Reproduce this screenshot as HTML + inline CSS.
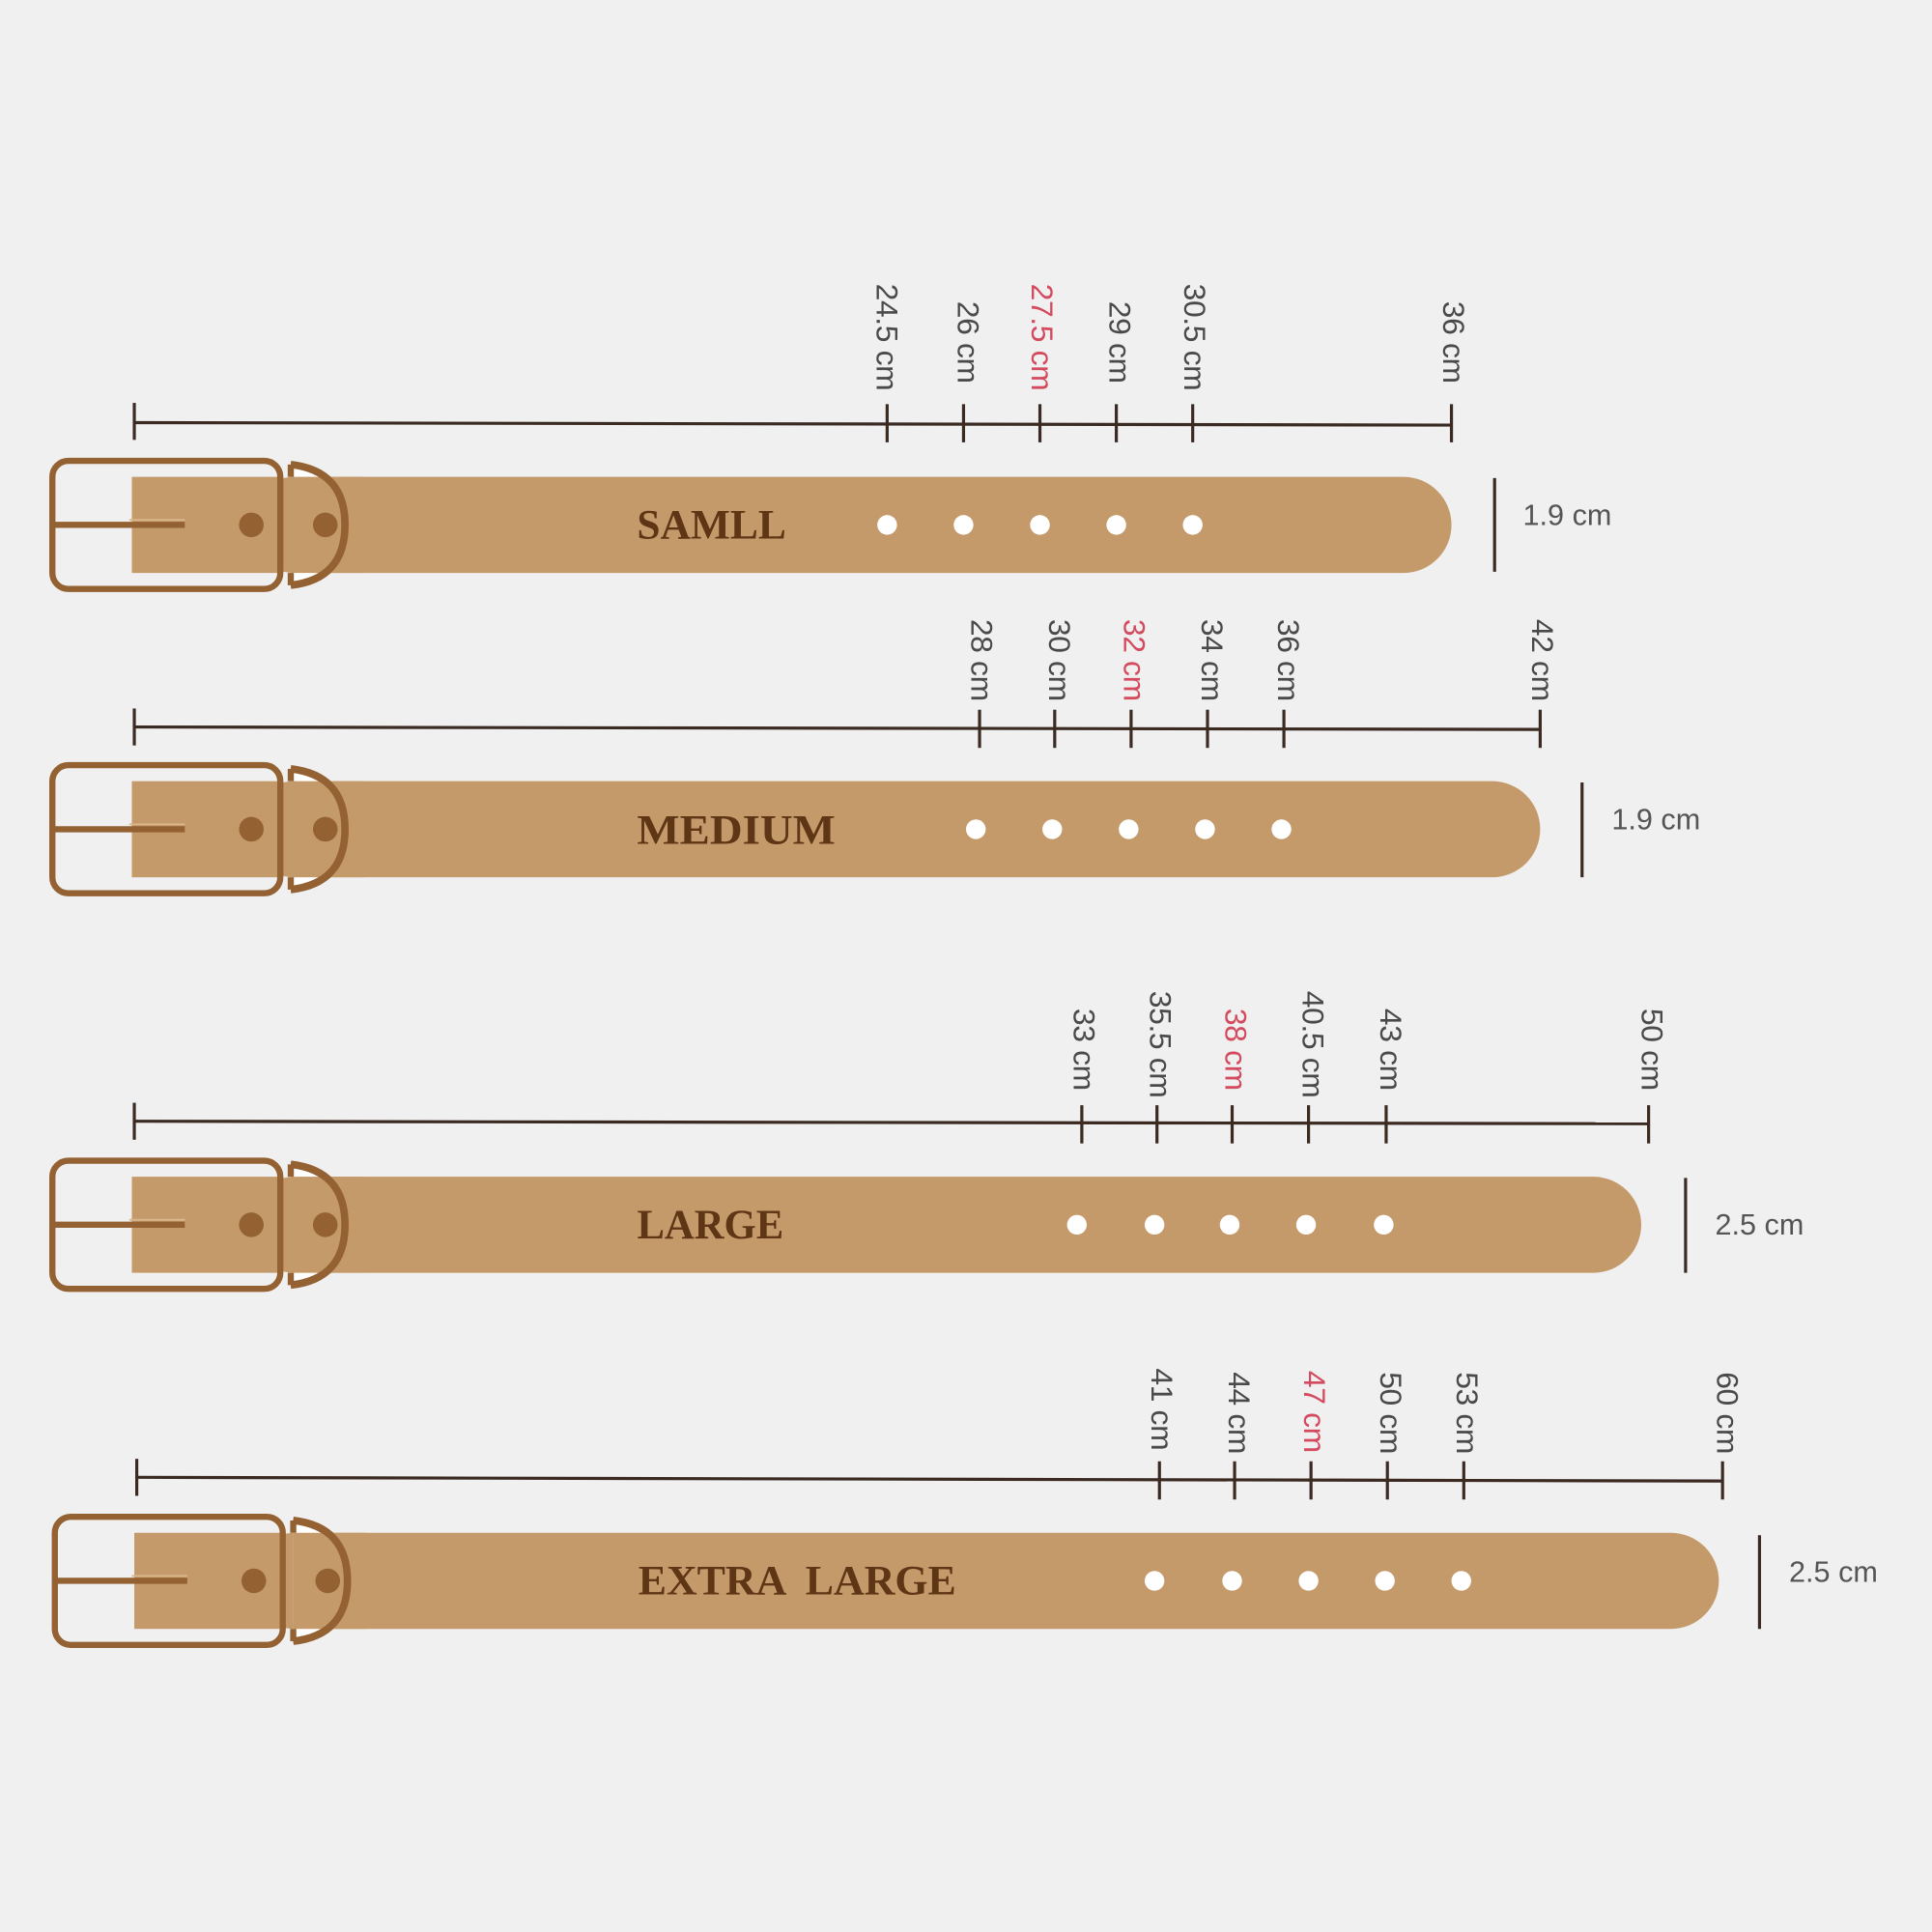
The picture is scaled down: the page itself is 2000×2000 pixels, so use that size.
<!DOCTYPE html>
<html><head><meta charset="utf-8"><style>
html,body{margin:0;padding:0;background:#f0f0f0;}
svg{display:block;}
.lb{font-family:"Liberation Sans",sans-serif;font-size:25px;fill:#4a4a4a;letter-spacing:-0.3px;}
.red{fill:#d44a5e;}
.nm{font-family:"Liberation Serif",serif;font-weight:bold;font-size:34px;fill:#5e3515;}
.w{font-family:"Liberation Sans",sans-serif;font-size:24px;fill:#555;}
</style></head><body>
<svg width="2000" height="2000" viewBox="0 0 1568 1568" xmlns="http://www.w3.org/2000/svg">
<rect width="1568" height="1568" fill="#f0f0f0"/>
<defs>
<g id="buckle">
  <rect x="67" y="13" width="120" height="78" fill="#c49a6a"/>
  <rect x="2.5" y="0" width="185" height="104" rx="13" fill="none" stroke="#946133" stroke-width="5"/>
  <line x1="4" y1="52" x2="110" y2="52" stroke="#946133" stroke-width="5"/>
  <line x1="65" y1="48" x2="110" y2="48" stroke="#d9b58a" stroke-width="1.5"/>
  <circle cx="164" cy="52" r="10" fill="#946133"/>
  <path d="M196 3 Q240 8 240 52 Q240 96 196 101" fill="#fff" stroke="#946133" stroke-width="6"/>
  <rect x="196" y="13" width="60" height="78" fill="#c49a6a"/>
  <path d="M196 3 Q240 8 240 52 Q240 96 196 101" fill="none" stroke="#946133" stroke-width="6"/>
  <line x1="196" y1="3" x2="196" y2="13" stroke="#946133" stroke-width="5"/>
  <line x1="196" y1="91" x2="196" y2="101" stroke="#946133" stroke-width="5"/>
  <circle cx="224" cy="52" r="10" fill="#946133"/>
</g>
</defs>

<!-- SMALL -->
<g>
<rect x="200" y="387" width="978" height="78" rx="39" fill="#c49a6a"/>
<use href="#buckle" x="40" y="374"/>
<text class="nm" x="517" y="437" textLength="121" lengthAdjust="spacingAndGlyphs">SAMLL</text>
<g fill="#fff"><circle cx="720" cy="426" r="8"/><circle cx="782" cy="426" r="8"/><circle cx="844" cy="426" r="8"/><circle cx="906" cy="426" r="8"/><circle cx="968" cy="426" r="8"/></g>
<g stroke="#3a2a22" stroke-width="2.5">
<line x1="109" y1="343" x2="1178" y2="345"/>
<line x1="109" y1="327" x2="109" y2="357"/>
<line x1="720" y1="328" x2="720" y2="359"/><line x1="782" y1="328" x2="782" y2="359"/><line x1="844" y1="328" x2="844" y2="359"/><line x1="906" y1="328" x2="906" y2="359"/><line x1="968" y1="328" x2="968" y2="359"/><line x1="1178" y1="328" x2="1178" y2="359"/>
<line x1="1213" y1="388" x2="1213" y2="464"/>
</g>
<g class="lb" text-anchor="end" dominant-baseline="central">
<text transform="translate(720,317) rotate(90)">24.5 cm</text>
<text transform="translate(786,311) rotate(90)">26 cm</text>
<text class="red" transform="translate(846,317) rotate(90)">27.5 cm</text>
<text transform="translate(909,311) rotate(90)">29 cm</text>
<text transform="translate(970,317) rotate(90)">30.5 cm</text>
<text transform="translate(1180,311) rotate(90)">36 cm</text>
</g>
<text class="w" x="1236" y="426">1.9 cm</text>
</g>

<!-- MEDIUM -->
<g>
<rect x="200" y="634" width="1050" height="78" rx="39" fill="#c49a6a"/>
<use href="#buckle" x="40" y="621"/>
<text class="nm" x="517" y="685" textLength="161" lengthAdjust="spacingAndGlyphs">MEDIUM</text>
<g fill="#fff"><circle cx="792" cy="673" r="8"/><circle cx="854" cy="673" r="8"/><circle cx="916" cy="673" r="8"/><circle cx="978" cy="673" r="8"/><circle cx="1040" cy="673" r="8"/></g>
<g stroke="#3a2a22" stroke-width="2.5">
<line x1="109" y1="590" x2="1250" y2="592"/>
<line x1="109" y1="575" x2="109" y2="605"/>
<line x1="795" y1="576" x2="795" y2="607"/><line x1="856" y1="576" x2="856" y2="607"/><line x1="918" y1="576" x2="918" y2="607"/><line x1="980" y1="576" x2="980" y2="607"/><line x1="1042" y1="576" x2="1042" y2="607"/><line x1="1250" y1="576" x2="1250" y2="607"/>
<line x1="1284" y1="635" x2="1284" y2="712"/>
</g>
<g class="lb" text-anchor="end" dominant-baseline="central">
<text transform="translate(797,569) rotate(90)">28 cm</text>
<text transform="translate(860,569) rotate(90)">30 cm</text>
<text class="red" transform="translate(921,569) rotate(90)">32 cm</text>
<text transform="translate(984,569) rotate(90)">34 cm</text>
<text transform="translate(1046,569) rotate(90)">36 cm</text>
<text transform="translate(1252,569) rotate(90)">42 cm</text>
</g>
<text class="w" x="1308" y="673">1.9 cm</text>
</g>

<!-- LARGE -->
<g>
<rect x="200" y="955" width="1132" height="78" rx="39" fill="#c49a6a"/>
<use href="#buckle" x="40" y="942"/>
<text class="nm" x="517" y="1005" textLength="119" lengthAdjust="spacingAndGlyphs">LARGE</text>
<g fill="#fff"><circle cx="874" cy="994" r="8"/><circle cx="937" cy="994" r="8"/><circle cx="998" cy="994" r="8"/><circle cx="1060" cy="994" r="8"/><circle cx="1123" cy="994" r="8"/></g>
<g stroke="#3a2a22" stroke-width="2.5">
<line x1="109" y1="910" x2="1338" y2="912"/>
<line x1="109" y1="895" x2="109" y2="925"/>
<line x1="878" y1="897" x2="878" y2="928"/><line x1="939" y1="897" x2="939" y2="928"/><line x1="1000" y1="897" x2="1000" y2="928"/><line x1="1062" y1="897" x2="1062" y2="928"/><line x1="1125" y1="897" x2="1125" y2="928"/><line x1="1338" y1="897" x2="1338" y2="928"/>
<line x1="1368" y1="956" x2="1368" y2="1033"/>
</g>
<g class="lb" text-anchor="end" dominant-baseline="central">
<text transform="translate(880,885) rotate(90)">33 cm</text>
<text transform="translate(942,891) rotate(90)">35.5 cm</text>
<text class="red" transform="translate(1003,885) rotate(90)">38 cm</text>
<text transform="translate(1066,891) rotate(90)">40.5 cm</text>
<text transform="translate(1129,885) rotate(90)">43 cm</text>
<text transform="translate(1341,885) rotate(90)">50 cm</text>
</g>
<text class="w" x="1392" y="1002">2.5 cm</text>
</g>

<!-- EXTRA LARGE -->
<g>
<rect x="200" y="1244" width="1195" height="78" rx="39" fill="#c49a6a"/>
<use href="#buckle" x="42" y="1231"/>
<text class="nm" x="518" y="1294" textLength="258" lengthAdjust="spacingAndGlyphs" xml:space="preserve">EXTRA  LARGE</text>
<g fill="#fff"><circle cx="937" cy="1283" r="8"/><circle cx="1000" cy="1283" r="8"/><circle cx="1062" cy="1283" r="8"/><circle cx="1124" cy="1283" r="8"/><circle cx="1186" cy="1283" r="8"/></g>
<g stroke="#3a2a22" stroke-width="2.5">
<line x1="111" y1="1199" x2="1398" y2="1202"/>
<line x1="111" y1="1184" x2="111" y2="1214"/>
<line x1="941" y1="1186" x2="941" y2="1217"/><line x1="1002" y1="1186" x2="1002" y2="1217"/><line x1="1064" y1="1186" x2="1064" y2="1217"/><line x1="1126" y1="1186" x2="1126" y2="1217"/><line x1="1188" y1="1186" x2="1188" y2="1217"/><line x1="1398" y1="1186" x2="1398" y2="1217"/>
<line x1="1428" y1="1246" x2="1428" y2="1322"/>
</g>
<g class="lb" text-anchor="end" dominant-baseline="central">
<text transform="translate(943,1177) rotate(90)">41 cm</text>
<text transform="translate(1006,1180) rotate(90)">44 cm</text>
<text class="red" transform="translate(1067,1179) rotate(90)">47 cm</text>
<text transform="translate(1129,1180) rotate(90)">50 cm</text>
<text transform="translate(1191,1180) rotate(90)">53 cm</text>
<text transform="translate(1402,1180) rotate(90)">60 cm</text>
</g>
<text class="w" x="1452" y="1284">2.5 cm</text>
</g>
</svg>
</body></html>
